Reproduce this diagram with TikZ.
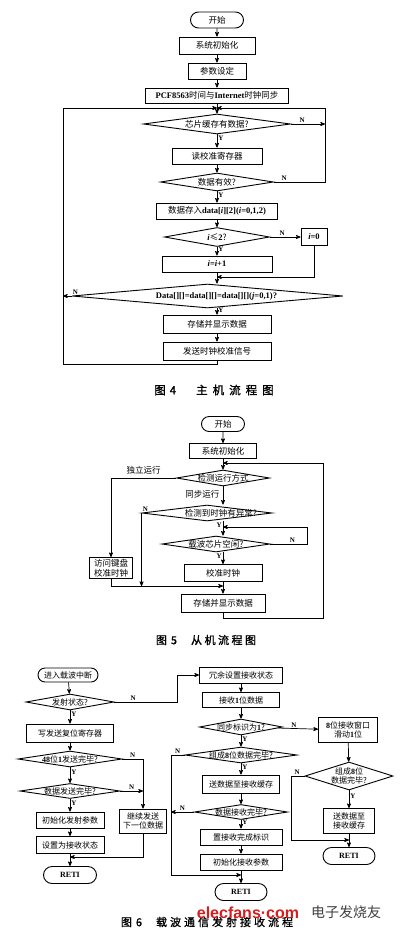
\documentclass[tikz,border=0pt]{standalone}
\usepackage{fontspec}
\setmainfont{Noto Sans CJK SC}
\newfontfamily\enfont{Liberation Serif}
\newfontfamily\capfont[FakeBold=1.2]{Noto Sans CJK SC}
\newfontfamily\markfont{Liberation Sans}
\newcommand\en[1]{{\enfont\bfseries #1}}
\usetikzlibrary{arrows,shapes.geometric,shapes.misc}
\definecolor{markred}{RGB}{215,30,30}

\begin{document}
\begin{tikzpicture}[x=1pt,y=-1pt,>=stealth',font=\fontsize{8.5}{9.5}\selectfont,
    wh/.style args={#1/#2}{minimum width=#1pt, minimum height=#2pt}]
		\tikzstyle{startstop}=[rounded rectangle, draw, line width=0.9pt, inner sep=1pt]
		\tikzstyle{process}=[rectangle, draw, line width=0.9pt, inner sep=1pt, align=center]
		\tikzstyle{decision}=[diamond, draw, line width=0.9pt, inner sep=0pt]
		\tikzstyle{line}=[draw, line width=0.7pt]
		\tikzstyle{arrow}=[line, ->]
		\tikzstyle{yn}=[inner sep=1pt, font=\enfont\bfseries\fontsize{7}{8}\selectfont]
		\tikzstyle{caption}=[font=\capfont\fontsize{11}{12}\selectfont]

		\path[fill=white] (0,0) rectangle (400,935);
		\useasboundingbox (0,0) rectangle (400,935);

		% figure 4
		\node [startstop, wh=55/16] (s4) at (217,20) {开始};
		\node [process, wh=76/17] (init4) at (217,45.5) {系统初始化};
		\node [process, wh=58/16] (par4) at (217,71) {参数设定};
		\node [process, wh=143/15] (pcf) at (217,95.5) {\en{PCF8563}时间与\en{Internet}时钟同步};
		\coordinate (top4) at (217,108);
		\node [decision, wh=147/20, label={center:{芯片缓存有数据?}}] (chip) at (217,124) {};
		\node [process, wh=90/16] (rdreg) at (217,156) {读校准寄存器};
		\node [decision, wh=113/18, label={center:{数据有效?}}] (valid) at (217,182) {};
		\node [process, wh=121/16] (store) at (217,211) {数据存入\en{data[\textit{i}][2](\textit{i}=0,1,2)}};
		\node [decision, wh=105/19, label={center:{\en{\textit{i}}≤\en{2}?}}] (cmp) at (217,237) {};
		\node [process, wh=26/17] (izero) at (314,237) {\en{\textit{i}=0}};
		\node [process, wh=110/16] (incr) at (217,264) {\en{\textit{i}=\textit{i}+1}};
		\coordinate (mid4) at (217,277);
		\node [decision, wh=271/24, label={[xshift=9pt]center:{\en{Data[][]=data[][]=data[][](\textit{j}=0,1)?}}}] (equal) at (207.5,296) {};
		\node [process, wh=108/18] (show4) at (217,324) {存储并显示数据};
		\node [process, wh=108/18] (send) at (217,351) {发送时钟校准信号};
		\coordinate (bl4) at (63,364);
		\coordinate (tl4) at (63,108);
		\coordinate (tr4) at (325,108);

		\draw [arrow] (s4) -- (init4);
		\draw [arrow] (init4) -- (par4);
		\draw [arrow] (par4) -- (pcf);
		\draw [arrow] (pcf) -- (chip);
		\draw [arrow] (chip) -- node[yn, right, pos=0.3] {Y} (rdreg);
		\draw [arrow] (chip.east) -- node[yn, above, pos=0.33] {N} (chip.east -| tr4);
		\draw [arrow] (rdreg) -- (valid);
		\draw [arrow] (valid.east) -- node[yn, above, pos=0.2] {N} (valid.east -| tr4) -- (tr4) -- (top4);
		\draw [arrow] (valid) -- node[yn, right, pos=0.3] {Y} (store);
		\draw [arrow] (store) -- (cmp);
		\draw [arrow] (cmp) -- node[yn, above, pos=0.4] {N} (izero);
		\draw [arrow] (cmp) -- node[yn, right, pos=0.3] {Y} (incr);
		\draw [arrow] (izero.south) |- (mid4);
		\draw [arrow] (incr.south) -- (incr.south |- equal.north);
		\draw [arrow] (equal.west) -- node[yn, above, pos=0.0, anchor=south west] {N} (equal.west -| bl4);
		\draw [arrow] (show4 |- equal.south) -- node[yn, right, pos=0.3] {Y} (show4);
		\draw [arrow] (show4) -- (send);
		\draw [arrow] (send.south) |- (bl4) -- (tl4) -- (top4);

		\node [caption, font=\capfont\fontsize{11.5}{12}\selectfont] (cap4) at (214,390)
			{图\hspace{4pt}4\hspace{20pt}主\hspace{5pt}机\hspace{5pt}流\hspace{5pt}程\hspace{5pt}图};

		% figure 5
		\node [startstop, wh=45/15] (s5) at (223,424) {开始};
		\node [process, wh=67/15] (init5) at (223,451) {系统初始化};
		\coordinate (top5) at (223,463);
		\node [decision, wh=93/16, label={center:{检测运行方式}}] (mode) at (223,478) {};
		\node [decision, wh=130/16, label={[xshift=14pt]center:{检测到时钟有异常?}}] (fault) at (207,513) {};
		\coordinate (mid5) at (223,527);
		\node [decision, wh=108/16, label={center:{载波芯片空闲?}}] (idle) at (216,544) {};
		\node [process, wh=78/17] (cal) at (223,573) {校准时钟};
		\node [process, wh=43/21] (key) at (111,568) {访问键盘\\校准时钟};
		\node [process, wh=84/18] (show5) at (223,603) {存储并显示数据};
		\coordinate (low5) at (111,586);
		\coordinate (idler) at (307,527);
		\coordinate (br5) at (323,618);
		\coordinate (tr5) at (323,463);

		\draw [arrow] (s5) -- (init5);
		\draw [arrow] (init5) -- (mode);
		\draw [arrow] (mode.west) -- node[above, pos=0.5] {独立运行} (mode.west -| key) -- (key);
		\draw [arrow] (mode.south) -- node[left, pos=0.45] {同步运行} (mode.south |- fault.north);
		\draw [arrow] (fault.west) node[yn, above right] {N} -- (fault.west |- low5);
		\draw [arrow] (mid5 |- fault.south) -- node[yn, left, pos=0.3] {Y} (mid5 |- idle.north);
		\draw [arrow] (idle.east) -- node[yn, above, pos=0.6] {N} (idle.east -| idler) -- (idler) -- (mid5);
		\draw [arrow] (cal |- idle.south) -- node[yn, left, pos=0.3] {Y} (cal);
		\draw [arrow] (key.south) -- (low5) -- (low5 -| show5);
		\draw [arrow] (cal) -- (show5);
		\draw [arrow] (show5.south) |- (br5) -- (tr5) -- (top5);

		\node [caption] (cap5) at (206,640)
			{图\hspace{4pt}5\hspace{14pt}从\hspace{2.5pt}机\hspace{2.5pt}流\hspace{2.5pt}程\hspace{2.5pt}图};

		% figure 6
		\begin{scope}[font=\fontsize{8}{9.5}\selectfont]
		\node [startstop, wh=62/14] (irq) at (68,675) {进入载波中断};
		\node [decision, wh=88/16, label={center:{发射状态?}}] (txst) at (70,702) {};
		\node [process, wh=87/18] (wreg) at (70,733) {写发送复位寄存器};
		\node [decision, wh=104/16, label={center:{\en{48}位\en{1}发送完毕?}}] (done48) at (70,759) {};
		\node [decision, wh=100/15, label={center:{数据发送完毕?}}] (txdone) at (70,791) {};
		\node [process, wh=68/16] (txinit) at (70,820) {初始化发射参数};
		\node [process, wh=68/17] (setrx) at (70,845) {设置为接收状态};
		\coordinate (low6a) at (70,857);
		\node [startstop, wh=55/17] (reti1) at (70,875) {\en{RETI}};
		\node [process, wh=47/24] (next) at (143,821) {继续发送\\下一位数据};
		\coordinate (t6) at (177,675);

		\node [process, wh=83/16] (redun) at (241,675) {冗余设置接收状态};
		\node [process, wh=77/15] (rx1) at (241,700) {接收\en{1}位数据};
		\node [decision, wh=83/16, label={center:{同步标识为\en{1}?}}] (sync) at (241,727) {};
		\node [decision, wh=112/16, label={center:{组成\en{8}位数据完毕?}}] (byte) at (241,755) {};
		\node [process, wh=77/18] (tobuf) at (241,784) {送数据至接收缓存};
		\node [decision, wh=93/15, label={center:{数据接收完毕?}}] (rxdone) at (241,812) {};
		\node [process, wh=82/16] (flag) at (241,837) {置接收完成标识};
		\node [process, wh=82/16] (rxinit) at (241,862) {初始化接收参数};
		\coordinate (low6b) at (241,875);
		\coordinate (lb6) at (171,875);
		\node [startstop, wh=54/17] (reti2) at (241,892) {\en{RETI}};

		\node [process, wh=59/25] (slide) at (348,730) {\en{8}位接收窗口\\滑动\en{1}位};
		\node [decision, wh=88/28, label={[align=center]center:{组成\en{8}位\\数据完毕?}}] (byte2) at (349,776) {};
		\node [process, wh=51/25] (tobuf2) at (349,821) {送数据至\\接收缓存};
		\coordinate (low6c) at (349,840);
		\coordinate (lc6) at (291,840);
		\node [startstop, wh=54/17] (reti3) at (349,856) {\en{RETI}};
		\end{scope}

		\draw [arrow] (irq) -- (txst);
		\draw [arrow] (txst) -- node[yn, right, pos=0.3] {Y} (wreg);
		\draw [arrow] (txst.east) -- node[yn, above, pos=0.3] {N} (txst.east -| t6) -- (t6) -- (redun);
		\draw [arrow] (wreg) -- (done48);
		\draw [arrow] (done48.east) -- node[yn, above, pos=0.5] {N} (done48.east -| next) -- (next);
		\draw [arrow] (done48) -- node[yn, right, pos=0.3] {Y} (txdone);
		\draw [arrow] (txdone.east) -- node[yn, above, pos=0.5] {N} (txdone.east -| next);
		\draw [arrow] (txdone) -- node[yn, right, pos=0.3] {Y} (txinit);
		\draw [arrow] (txinit) -- (setrx);
		\draw [arrow] (setrx) -- (reti1);
		\draw [arrow] (next.south) |- (low6a);

		\draw [arrow] (redun) -- (rx1);
		\draw [arrow] (rx1) -- (sync);
		\draw [arrow] (sync) -- node[yn, above, pos=0.4] {N} (slide);
		\draw [arrow] (sync) -- node[yn, right, pos=0.3] {Y} (byte);
		\draw [arrow] (byte) -- node[yn, right, pos=0.3] {Y} (tobuf);
		\draw [arrow] (byte.west) -- node[yn, above, pos=0.5] {N} (byte.west -| lb6) -- (lb6) -- (low6b);
		\draw [arrow] (tobuf) -- (rxdone);
		\draw [arrow] (rxdone.west) -- node[yn, above, pos=0.5] {N} (rxdone.west -| lb6);
		\draw [arrow] (rxdone) -- node[yn, right, pos=0.3] {Y} (flag);
		\draw [arrow] (flag) -- (rxinit);
		\draw [arrow] (rxinit) -- (reti2);

		\draw [arrow] (slide) -- (byte2);
		\draw [arrow] (byte2) -- node[yn, right, pos=0.3] {Y} (tobuf2);
		\draw [arrow] (byte2.west) -- node[yn, above, pos=0.55] {N} (byte2.west -| lc6) -- (lc6) -- (low6c);
		\draw [arrow] (tobuf2) -- (reti3);

		\node [caption] (cap6) at (207,922)
			{图\hspace{4pt}6\hspace{14pt}载\hspace{3pt}波\hspace{3pt}通\hspace{3pt}信\hspace{3pt}发\hspace{3pt}射\hspace{3pt}接\hspace{3pt}收\hspace{3pt}流\hspace{3pt}程};
		\node [text=markred, font=\markfont\bfseries\fontsize{16}{16}\selectfont] (mark) at (248,913) {elecfans·com};
		\node [text=black!75, font=\fontsize{14}{14}\selectfont] (markcn) at (346,912) {电子发烧友};
	\end{tikzpicture}
\end{document}
